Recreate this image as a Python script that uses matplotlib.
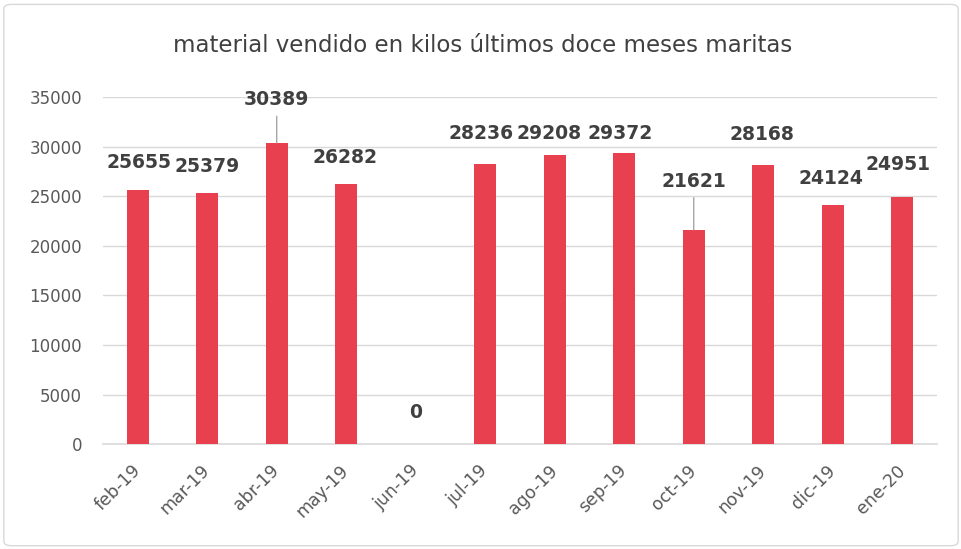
import matplotlib.pyplot as plt
from matplotlib.patches import FancyBboxPatch

# data
meses = ['feb-19', 'mar-19', 'abr-19', 'may-19', 'jun-19', 'jul-19',
         'ago-19', 'sep-19', 'oct-19', 'nov-19', 'dic-19', 'ene-20']
kilos = [25655, 25379, 30389, 26282, 0, 28236,
         29208, 29372, 21621, 28168, 24124, 24951]

# label offsets (points) above each bar, as Excel placed them
label_dx = [1, 0, 0, -1, 0, -3, -4, -3, 0, -1, -1, -3]
label_dy = [20, 19, 31, 19, 23, 22, 15, 14, 35, 22, 19, 23]
leader = [False, False, True, False, False, False,
          False, False, True, False, False, False]

bar_color = '#E8404F'
txt_color = '#404040'
tick_color = '#595959'

fig = plt.figure(figsize=(9.62, 5.49), dpi=100)
ax = fig.add_axes([0.107, 0.191, 0.867, 0.632])

x = range(len(meses))
ax.bar(x, kilos, width=0.32, color=bar_color, zorder=3)

for i, v in enumerate(kilos):
    if leader[i]:
        ax.annotate(str(v), xy=(i, v), xytext=(label_dx[i], label_dy[i]),
                    textcoords='offset points', ha='center', va='center',
                    fontsize=13.5, fontweight='bold', color=txt_color,
                    arrowprops=dict(arrowstyle='-', color='#a6a6a6', lw=1,
                                    shrinkA=3, shrinkB=0))
    else:
        ax.annotate(str(v), xy=(i, v), xytext=(label_dx[i], label_dy[i]),
                    textcoords='offset points', ha='center', va='center',
                    fontsize=13.5, fontweight='bold', color=txt_color)

ax.set_xlim(-0.5, len(meses) - 0.5)
ax.set_ylim(0, 35000)
ax.set_yticks(range(0, 35001, 5000))
ax.set_xticks(list(x))
ax.set_xticklabels(meses, rotation=45, ha='right', va='center',
                   rotation_mode='anchor')
ax.tick_params(axis='both', length=0, labelsize=12, colors=tick_color)
ax.tick_params(axis='x', labelsize=12.5, pad=17)
ax.tick_params(axis='y', pad=15)

ax.grid(axis='y', color='#d9d9d9', lw=1, zorder=0)
for s in ['top', 'right', 'left']:
    ax.spines[s].set_visible(False)
ax.spines['bottom'].set_color('#d9d9d9')
ax.spines['bottom'].set_linewidth(1.2)

fig.text(0.502, 0.918, 'material vendido en kilos últimos doce meses maritas',
         ha='center', va='center', fontsize=16.5, color=txt_color)

# outer chart frame
frame = FancyBboxPatch((0.004, 0.006), 0.992, 0.986,
                       boxstyle='round,pad=0,rounding_size=0.008',
                       transform=fig.transFigure, fill=False,
                       edgecolor='#d9d9d9', lw=1)
fig.patches.append(frame)

fig.savefig('out.png', dpi=100)
